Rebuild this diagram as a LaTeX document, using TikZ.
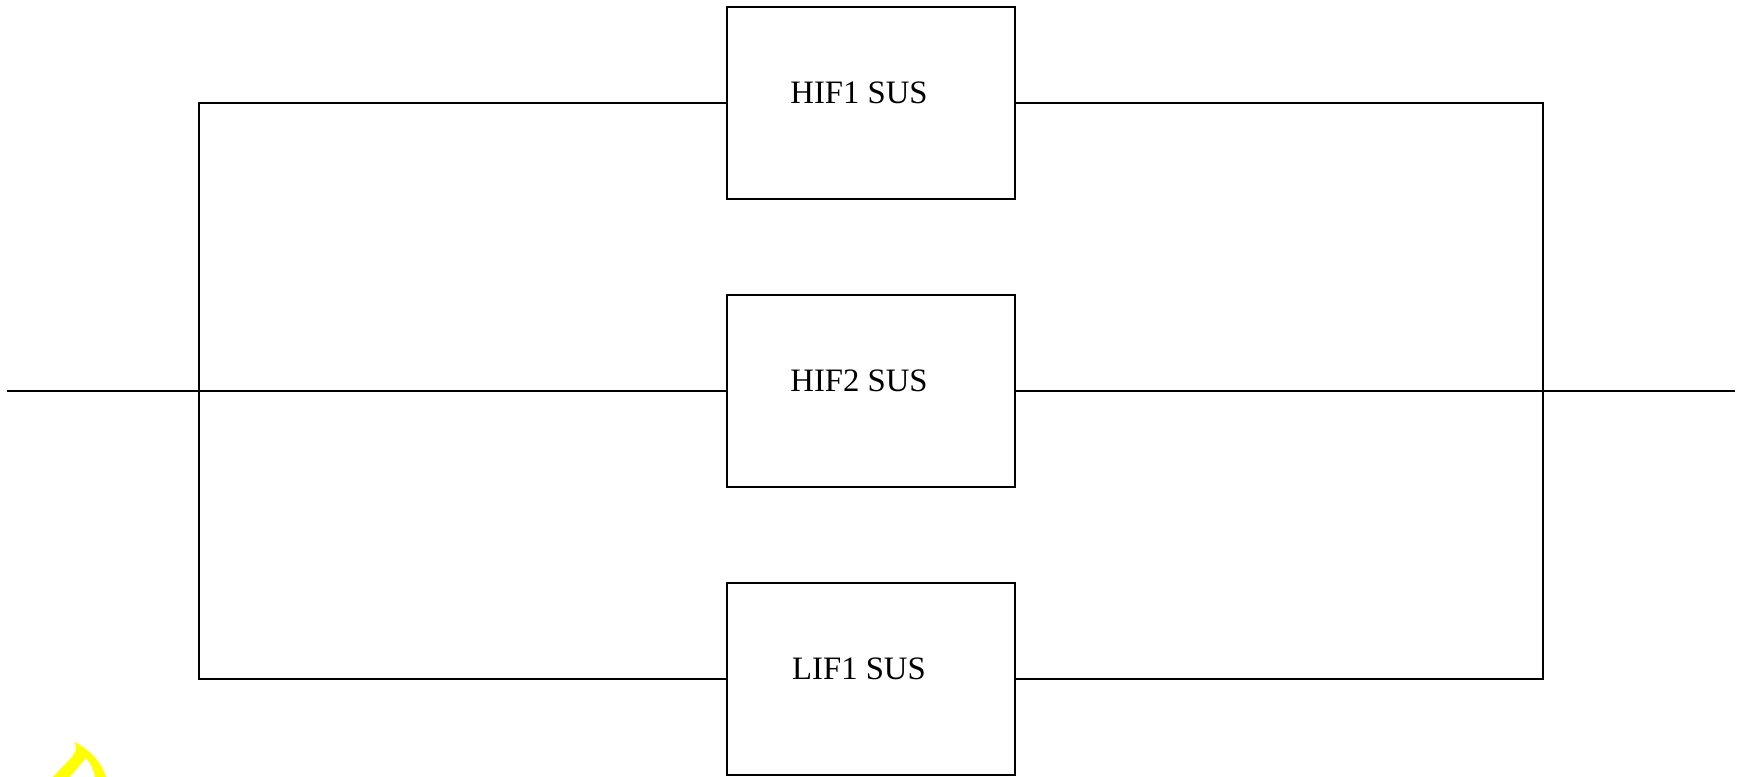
\documentclass[tikz,border=0pt]{standalone}
\usepackage{fontspec}
\setmainfont{Liberation Serif}
\usetikzlibrary{positioning, calc}
\definecolor{markyellow}{RGB}{255,255,0}
\tikzset{
  wire/.style  = {line width=0.55pt, color=black},
  susbox/.style = {draw, line width=0.55pt, minimum width=2.88cm,
                   minimum height=1.92cm, inner sep=0pt},
  sustext/.style = {font=\fontsize{9.3}{11}\selectfont, inner sep=0pt},
}
\begin{document}
\begin{tikzpicture}[x=0.01cm, y=-0.01cm]
  \useasboundingbox (0,0) rectangle (1739,777);

  % the three branches
  \node[susbox] (h1) at (871,103) {};
  \node[susbox] (h2) at (871,391) {};
  \node[susbox] (l1) at (871,679) {};
  \node[sustext] at ($(h1.center)+(-12,-10)$) {HIF1 SUS};
  \node[sustext] at ($(h2.center)+(-12,-10)$) {HIF2 SUS};
  \node[sustext] at ($(l1.center)+(-12,-10)$) {LIF1 SUS};

  \coordinate (in)  at (7,391);
  \coordinate (out) at (1735,391);
  \coordinate (jl)  at (199,391);
  \coordinate (jr)  at (1543,391);

  \draw[wire] (in) -- (h2.west);
  \draw[wire] (h2.east) -- (out);
  \draw[wire] (h1.west) -| (jl) |- (l1.west);
  \draw[wire] (h1.east) -| (jr) |- (l1.east);

  % yellow mark
  \fill[markyellow] (53,777) -- (72,757) -- (76,750) -- (75,742)
    -- (80,745) .. controls (93,753) and (102,764) .. (106,777)
    -- (95,777) .. controls (93,768) and (90,762) .. (86,758)
    -- (70,777) -- cycle;
\end{tikzpicture}
\end{document}
